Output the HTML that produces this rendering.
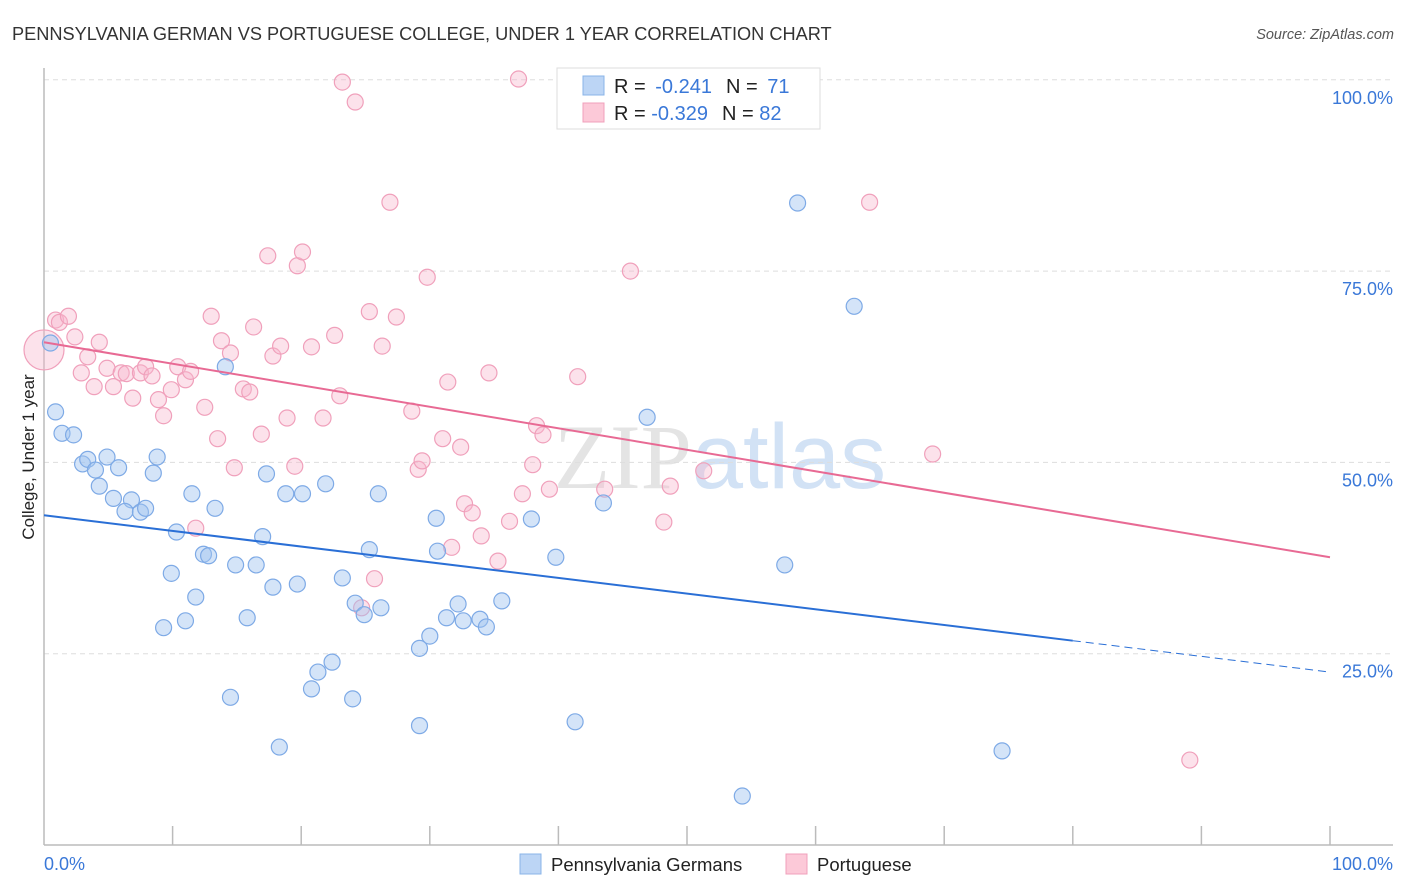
<!DOCTYPE html>
<html><head><meta charset="utf-8"><style>
body{margin:0;background:#fff;font-family:"Liberation Sans",sans-serif}
svg{display:block}
</style></head><body>
<svg id="chart" width="1406" height="892" xmlns="http://www.w3.org/2000/svg">
<text x="12" y="40" font-size="18.2" fill="#333">PENNSYLVANIA GERMAN VS PORTUGUESE COLLEGE, UNDER 1 YEAR CORRELATION CHART</text>
<text x="1394" y="39" font-size="14.5" fill="#555" font-style="italic" text-anchor="end">Source: ZipAtlas.com</text>
<text x="720" y="488" font-size="92" fill="#e4e4e4" text-anchor="middle" font-family="Liberation Serif,serif">ZIP<tspan fill="#d2e2f5" font-family="Liberation Sans,sans-serif">atlas</tspan></text>
<g id="grid"></g>
<g id="axes"></g>
<g id="points"></g>
<g id="lines"></g>
<text transform="translate(34,457) rotate(-90)" font-size="17" fill="#222" text-anchor="middle">College, Under 1 year</text>
<g>
<rect x="557" y="68" width="263" height="61" fill="#fff" stroke="#ddd"/>
<rect x="583" y="76" width="21" height="19" fill="#bcd5f5" stroke="#8ab4e8"/>
<rect x="583" y="103" width="21" height="19" fill="#fcc9d8" stroke="#f0a0bb"/>
<text x="614" y="93" font-size="20" fill="#222">R = <tspan fill="#3a78d8" dx="4">-0.241</tspan><tspan dx="14" fill="#222">N = </tspan><tspan dx="4" fill="#3a78d8">71</tspan></text>
<text x="614" y="120" font-size="20" fill="#222">R = <tspan fill="#3a78d8">-0.329</tspan><tspan dx="14" fill="#222">N = </tspan><tspan fill="#3a78d8">82</tspan></text>
</g>
<g>
<rect x="520" y="854" width="21" height="20" fill="#bcd5f5" stroke="#8ab4e8"/>
<text x="551" y="871" font-size="18.5" fill="#222">Pennsylvania Germans</text>
<rect x="786" y="854" width="21" height="20" fill="#fcc9d8" stroke="#f0a0bb"/>
<text x="817" y="871" font-size="18.5" fill="#222">Portuguese</text>
</g>
</svg>
<script>
const yTicks=[25,50,75,100];
const yTickLabels=["25.0%","50.0%","75.0%","100.0%"];
const xTicks=[0,10,20,30,40,50,60,70,80,90,100];
const blueX=[0.5,0.9,1.4,2.3,3.0,3.4,4.0,4.3,4.9,5.8,5.4,6.8,6.3,7.5,7.9,8.5,8.8,10.3,9.9,9.3,11.0,11.8,11.5,13.3,12.4,12.8,14.1,14.9,14.5,15.8,16.5,17.0,17.3,17.8,18.3,18.8,19.7,20.1,20.8,21.3,21.9,22.4,23.2,24.0,24.2,24.9,25.3,26.0,26.2,29.2,29.2,30.0,30.5,30.6,31.3,32.2,32.6,33.9,34.4,35.6,37.9,39.8,41.3,43.5,46.9,54.3,57.6,58.6,63.0,74.5];
const blueY=[65.6,56.6,53.8,53.6,49.8,50.4,49.0,46.9,50.7,49.3,45.3,45.1,43.6,43.5,44.0,48.6,50.7,40.9,35.5,28.4,29.3,32.4,45.9,44.0,38.0,37.8,62.5,36.6,19.3,29.7,36.6,40.3,48.5,33.7,12.8,45.9,34.1,45.9,20.4,22.6,47.2,23.9,34.9,19.1,31.6,30.1,38.6,45.9,31.0,15.6,25.7,27.3,42.7,38.4,29.7,31.5,29.3,29.5,28.5,31.9,42.6,37.6,16.1,44.7,55.9,6.4,36.6,83.9,70.4,12.3];
const pinkX=[0.0,0.9,1.2,1.9,2.4,2.9,3.4,3.9,4.3,4.9,5.4,6.0,6.4,6.9,7.5,7.9,8.4,8.9,9.3,9.9,10.4,11.0,11.4,11.8,12.5,13.0,13.5,13.8,14.5,14.8,15.5,16.0,16.3,16.9,17.4,17.8,18.4,18.9,19.5,19.7,20.1,20.8,21.7,22.6,23.0,23.2,24.2,25.3,25.7,26.3,26.9,27.4,28.6,29.1,29.4,29.8,31.0,31.4,32.4,32.7,33.3,34.0,34.6,35.3,36.2,36.9,37.2,38.0,38.3,38.8,39.3,41.5,43.6,45.6,48.2,48.7,51.3,64.2,69.1,89.1,24.7,31.7];
const pinkY=[64.7,68.6,68.3,69.1,66.4,61.7,63.8,59.9,65.7,62.3,59.9,61.7,61.6,58.4,61.7,62.5,61.3,58.2,56.1,59.5,62.5,60.8,61.9,41.4,57.2,69.1,53.1,65.9,64.3,49.3,59.6,59.2,67.7,53.7,77.0,63.9,65.2,55.8,49.5,75.7,77.5,65.1,55.8,66.6,58.7,99.7,97.1,69.7,34.8,65.2,84.0,69.0,56.7,49.1,50.2,74.2,53.1,60.5,52.0,44.6,43.4,40.4,61.7,37.1,42.3,100.1,45.9,49.7,54.8,53.6,46.5,61.2,46.5,75.0,42.2,46.9,48.9,84.0,51.1,11.1,31.0,38.9];
const blueTrend=[43.1,22.6];
const pinkTrend=[65.7,37.6];
const NS="http://www.w3.org/2000/svg";
const X=v=>44+v*12.86, Y=v=>845-v*7.652;
function mk(t,a,p){const e=document.createElementNS(NS,t);for(const k in a)e.setAttribute(k,a[k]);p.appendChild(e);return e;}
const grid=document.getElementById('grid'),axes=document.getElementById('axes'),pts=document.getElementById('points'),lines=document.getElementById('lines');
yTicks.forEach((t,i)=>{
 const l=mk('line',{x1:44,x2:1393,y1:Y(t),y2:Y(t),stroke:'#ddd','stroke-dasharray':'5,4'},grid);
 
 
 const tx=mk('text',{x:1393,y:Y(t)+24,'font-size':18,fill:'#3a78d8','text-anchor':'end'},axes);
 tx.textContent=yTickLabels[i];
 
 
});
mk('line',{x1:44,x2:44,y1:68,y2:845,stroke:'#bbb','stroke-width':1.5},axes);
const xa=mk('line',{x1:44,x2:1393,y1:845,y2:845,stroke:'#bbb','stroke-width':1.5},axes);


xTicks.forEach(t=>{if(t>0){const k=mk('line',{x1:X(t),x2:X(t),y1:826,y2:845,stroke:'#bbb','stroke-width':1.5},axes);
 
 }});
const x0=mk('text',{x:44,y:870,'font-size':18,fill:'#3a78d8'},axes);x0.textContent='0.0%';


const x1=mk('text',{x:1393,y:870,'font-size':18,fill:'#3a78d8','text-anchor':'end'},axes);x1.textContent='100.0%';


pinkX.forEach((v,i)=>{const r=i===0?20:8;const c=mk('circle',{cx:X(v),cy:Y(pinkY[i]),r:r,fill:'rgba(248,183,204,0.4)',stroke:'#f0a0bb','stroke-width':1.2},pts);
 
 });
blueX.forEach((v,i)=>{const c=mk('circle',{cx:X(v),cy:Y(blueY[i]),r:8,fill:'rgba(160,196,240,0.45)',stroke:'#7eaae6','stroke-width':1.2},pts);
 
 });
const bAt=x=>blueTrend[0]+(blueTrend[1]-blueTrend[0])*x/100;
const bl=mk('line',{x1:X(0),y1:Y(bAt(0)),x2:X(80),y2:Y(bAt(80)),stroke:'#2a6fd6','stroke-width':2},lines);


const bd=mk('line',{x1:X(80),y1:Y(bAt(80)),x2:X(100),y2:Y(bAt(100)),stroke:'#2a6fd6','stroke-width':1,'stroke-dasharray':'8,5'},lines);


const pl=mk('line',{x1:X(0),y1:Y(pinkTrend[0]),x2:X(100),y2:Y(pinkTrend[1]),stroke:'#e86a94','stroke-width':2},lines);


</script>
</body></html>
